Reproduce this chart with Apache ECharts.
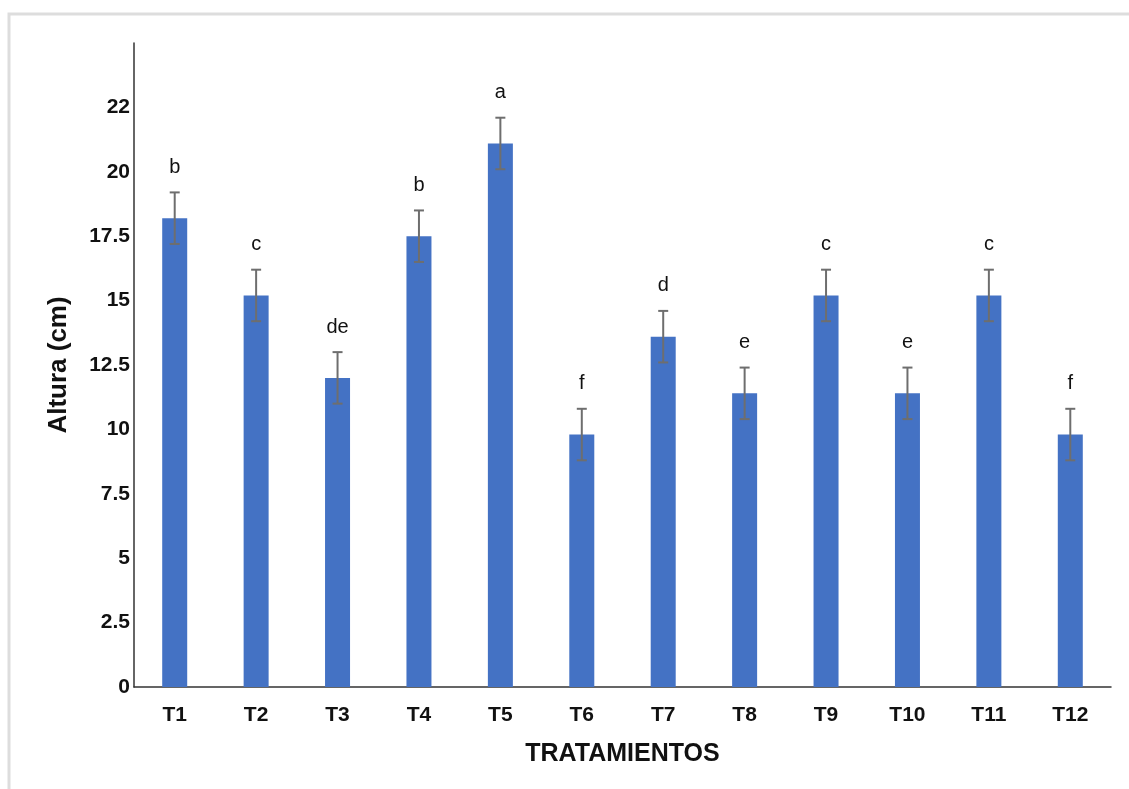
<!DOCTYPE html>
<html>
<head>
<meta charset="utf-8">
<title>Altura por tratamiento</title>
<script src="https://cdn.jsdelivr.net/npm/echarts@6/dist/echarts.min.js"></script>
<style>
  html, body { margin: 0; padding: 0; background: #ffffff; }
  #chart { width: 1129px; height: 789px; }
</style>
</head>
<body>
<div id="chart"></div>
<script>
// Treatments, mean heights (cm), error half-widths and significance letters
const categories = ['T1', 'T2', 'T3', 'T4', 'T5', 'T6', 'T7', 'T8', 'T9', 'T10', 'T11', 'T12'];
const means = [18.2, 15.2, 12.0, 17.5, 21.1, 9.8, 13.6, 11.4, 15.2, 11.4, 15.2, 9.8];
const errors = [1.0, 1.0, 1.0, 1.0, 1.0, 1.0, 1.0, 1.0, 1.0, 1.0, 1.0, 1.0];
const letters = ['b', 'c', 'de', 'b', 'a', 'f', 'd', 'e', 'c', 'e', 'c', 'f'];
// Tick labels for the value axis, one per 2.5 step from 0 to 25
const yTickLabels = ['0', '2.5', '5', '7.5', '10', '12.5', '15', '17.5', '20', '22', ''];

const FONT = '"Liberation Sans", Arial, sans-serif';

const errorData = categories.map((c, i) => [i, means[i], errors[i], letters[i]]);

const chart = echarts.init(document.getElementById('chart'));

chart.setOption({
  backgroundColor: '#ffffff',
  animation: false,
  graphic: [{
    type: 'rect',
    shape: { x: 9, y: 14, width: 1200, height: 900 },
    style: { fill: 'none', stroke: '#dddddd', lineWidth: 3 },
    silent: true,
    z: -10
  }],
  grid: { left: 134, right: 18, top: 43, bottom: 102, containLabel: false },
  xAxis: {
    type: 'category',
    data: categories,
    name: 'TRATAMIENTOS',
    nameLocation: 'middle',
    nameGap: 55,
    nameTextStyle: { fontFamily: FONT, fontWeight: 'bold', fontSize: 25, color: '#111111' },
    axisLine: { lineStyle: { color: '#333333', width: 1.5 } },
    axisTick: { show: false },
    axisLabel: { fontFamily: FONT, fontWeight: 'bold', fontSize: 21, color: '#111111', margin: 18 }
  },
  yAxis: {
    type: 'value',
    min: 0,
    max: 25,
    interval: 2.5,
    name: 'Altura (cm)',
    nameLocation: 'middle',
    nameGap: 62,
    nameTextStyle: { fontFamily: FONT, fontWeight: 'bold', fontSize: 26, color: '#111111' },
    axisLine: { show: true, lineStyle: { color: '#333333', width: 1.5 } },
    axisTick: { show: false },
    splitLine: { show: false },
    axisLabel: {
      fontFamily: FONT, fontWeight: 'bold', fontSize: 21, color: '#111111', margin: 4,
      padding: [5, 0, 0, 0],
      formatter: (v) => yTickLabels[Math.round(v / 2.5)] ?? ''
    }
  },
  series: [
    {
      type: 'bar',
      data: means,
      barWidth: 25,
      itemStyle: { color: '#4472C4' },
      z: 2
    },
    {
      type: 'custom',
      data: errorData,
      z: 5,
      renderItem: (params, api) => {
        const x = api.value(0);
        const m = api.value(1);
        const e = api.value(2);
        const label = letters[params.dataIndex];
        const top = api.coord([x, m + e]);
        const bot = api.coord([x, m - e]);
        const cap = 5;
        const style = { stroke: '#6e6e6e', lineWidth: 2 };
        return {
          type: 'group',
          children: [
            { type: 'line', shape: { x1: top[0], y1: top[1], x2: bot[0], y2: bot[1] }, style },
            { type: 'line', shape: { x1: top[0] - cap, y1: top[1], x2: top[0] + cap, y2: top[1] }, style },
            { type: 'line', shape: { x1: bot[0] - cap, y1: bot[1], x2: bot[0] + cap, y2: bot[1] }, style },
            {
              type: 'text',
              x: top[0],
              y: top[1] - 25,
              style: {
                text: label,
                fontFamily: FONT,
                fontSize: 20,
                fill: '#111111',
                align: 'center',
                verticalAlign: 'middle'
              }
            }
          ]
        };
      }
    }
  ]
});
</script>
</body>
</html>
